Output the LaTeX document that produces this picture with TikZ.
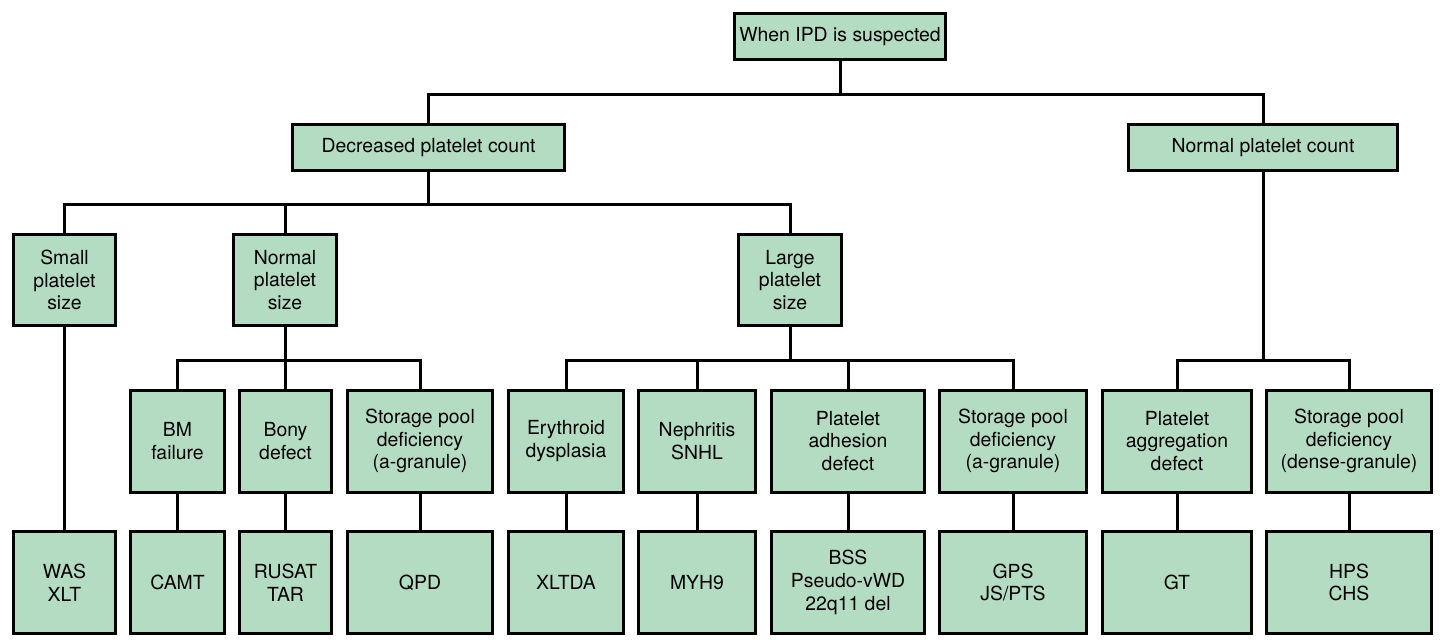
\documentclass[tikz,border=0pt]{standalone}
\usepackage{fontspec}
\setmainfont{TeX Gyre Heros}
\usepackage{tikz}
\usetikzlibrary{positioning,calc}
\definecolor{IPDgreen}{HTML}{B3DCC3}

\tikzset{
  box/.style={draw=black, fill=IPDgreen, line width=1.5pt, inner sep=0pt,
    align=center, font=\fontsize{9.7}{11.4}\selectfont},
  wide/.style={box, minimum height=23pt},
  tall/.style={box, minimum height=45.5pt},
  leaf/.style={box, minimum height=51pt},
  link/.style={line width=1.5pt, line join=miter}
}

\begin{document}
\begin{tikzpicture}[x=0.5pt, y=-0.5pt]
  \useasboundingbox (0,0) rectangle (1444,639);
  \coordinate (r0) at (0,94);
  \coordinate (r1) at (0,204);
  \coordinate (r2) at (0,360);

  \node[wide, minimum width=105.5pt] (when) at (840,36.5) {When IPD is suspected};
  \node[wide, minimum width=136pt] (decr) at (428.5,147.5) {Decreased platelet count};
  \node[wide, minimum width=134.5pt] (normcnt) at (1263,147.5) {Normal platelet count};

  \node[tall, minimum width=51pt] (small) at (64.5,280) {Small\\platelet\\size};
  \node[tall, minimum width=51.5pt] (normsz) at (285,280) {Normal\\platelet\\size};
  \node[tall, minimum width=51.5pt] (large) at (790,280) {Large\\platelet\\size};

  \node[leaf, minimum width=47pt] (bm) at (177.5,441) {BM\\failure};
  \node[leaf, minimum width=46pt] (bony) at (285.5,441) {Bony\\defect};
  \node[leaf, minimum width=72.5pt] (spa) at (420,441) {Storage pool\\deficiency\\(a-granule)};
  \node[leaf, minimum width=57.5pt] (eryth) at (566,441) {Erythroid\\dysplasia};
  \node[leaf, minimum width=58.5pt] (neph) at (697,441) {Nephritis\\SNHL};
  \node[leaf, minimum width=76.5pt] (adh) at (848,441) {Platelet\\adhesion\\defect};
  \node[leaf, minimum width=73.5pt] (spb) at (1013,441) {Storage pool\\deficiency\\(a-granule)};
  \node[leaf, minimum width=74.5pt] (aggr) at (1177,441) {Platelet\\aggregation\\defect};
  \node[leaf, minimum width=82.5pt] (spd) at (1349,441) {Storage pool\\deficiency\\(dense-granule)};

  \node[leaf, minimum width=51pt] (was) at (64.5,582.5) {WAS\\XLT};
  \node[leaf, minimum width=47pt] (camt) at (177.5,582.5) {CAMT};
  \node[leaf, minimum width=46pt] (rusat) at (285.5,582.5) {RUSAT\\TAR};
  \node[leaf, minimum width=72.5pt] (qpd) at (420,582.5) {QPD};
  \node[leaf, minimum width=57.5pt] (xltda) at (566,582.5) {XLTDA};
  \node[leaf, minimum width=58.5pt] (myh) at (697,582.5) {MYH9};
  \node[leaf, minimum width=76.5pt] (bss) at (848,582.5) {BSS\\Pseudo-vWD\\22q11 del};
  \node[leaf, minimum width=73.5pt] (gps) at (1013,582.5) {GPS\\JS/PTS};
  \node[leaf, minimum width=74.5pt] (gt) at (1177,582.5) {GT};
  \node[leaf, minimum width=82.5pt] (hps) at (1349,582.5) {HPS\\CHS};

  \foreach \c in {decr,normcnt}
    \draw[link] (\c.north) |- (when.south |- r0) -- (when.south);
  \foreach \c in {small,normsz,large}
    \draw[link] (\c.north) |- (decr.south |- r1) -- (decr.south);
  \foreach \c in {bm,bony,spa}
    \draw[link] (\c.north) |- (normsz.south |- r2) -- (normsz.south);
  \foreach \c in {eryth,neph,adh,spb}
    \draw[link] (\c.north) |- (large.south |- r2) -- (large.south);
  \foreach \c in {aggr,spd}
    \draw[link] (\c.north) |- (normcnt.south |- r2) -- (normcnt.south);
  \foreach \a/\b in {small/was,bm/camt,bony/rusat,spa/qpd,eryth/xltda,neph/myh,adh/bss,spb/gps,aggr/gt,spd/hps}
    \draw[link] (\a) -- (\b);
\end{tikzpicture}
\end{document}
